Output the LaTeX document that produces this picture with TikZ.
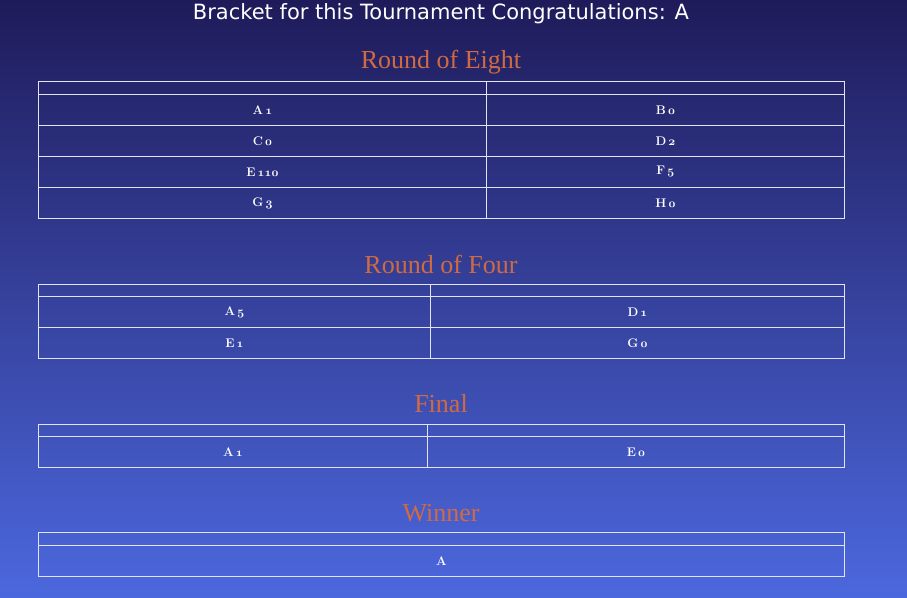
\documentclass[tikz,border=0pt]{standalone}
\usepackage{fontspec}
\newfontfamily\titlefont{DejaVu Sans}
\newfontfamily\roundfont{Liberation Serif}
\usetikzlibrary{positioning}

\definecolor{bgtop}{RGB}{31,27,90}
\definecolor{bgbottom}{RGB}{76,104,222}
\definecolor{roundorange}{RGB}{208,106,66}
\definecolor{gridline}{RGB}{225,228,245}

% team and score, score in old-style figures
\newcommand{\entry}[2]{#1\,{\usefont{OML}{cmm}{b}{it}#2}}

\begin{document}
\begin{tikzpicture}[x=1pt,y=-1pt,
    title node/.style={text=white,font=\titlefont\fontsize{21}{23}\selectfont},
    round node/.style={text=roundorange,font=\roundfont\fontsize{26}{28}\selectfont},
    cell/.style={draw=gridline,line width=0.8pt,rectangle,anchor=north west,
        inner sep=0pt,text=white,font=\bfseries\fontsize{12.5}{13}\selectfont},
    head cell/.style={cell,minimum height=13pt},
    team cell/.style={cell,minimum height=31pt}]

% background
\shade[top color=bgtop,bottom color=bgbottom] (0,0) rectangle (907,597);
\useasboundingbox (0,0) rectangle (907,597);

\node[title node] (title) at (441,14) {Bracket for this Tournament Congratulations: A};

% round of eight
\node[round node] (r8) at (441,62) {Round of Eight};
\node[head cell,minimum width=448pt] (r8hl) at (38,81) {};
\node[head cell,minimum width=358pt] (r8hr) at (486,81) {};
\node[team cell,minimum width=448pt] (r8a) at (38,94) {\entry{A}{1}};
\node[team cell,minimum width=358pt] (r8b) at (486,94) {\entry{B}{0}};
\node[team cell,minimum width=448pt] (r8c) at (38,125) {\entry{C}{0}};
\node[team cell,minimum width=358pt] (r8d) at (486,125) {\entry{D}{2}};
\node[team cell,minimum width=448pt] (r8e) at (38,156) {\entry{E}{110}};
\node[team cell,minimum width=358pt] (r8f) at (486,156) {\entry{F}{5}};
\node[team cell,minimum width=448pt] (r8g) at (38,187) {\entry{G}{3}};
\node[team cell,minimum width=358pt] (r8h) at (486,187) {\entry{H}{0}};

% round of four
\node[round node] (r4) at (441,264) {Round of Four};
\node[head cell,minimum width=392pt,minimum height=12pt] (r4hl) at (38,284) {};
\node[head cell,minimum width=414pt,minimum height=12pt] (r4hr) at (430,284) {};
\node[team cell,minimum width=392pt] (r4a) at (38,296) {\entry{A}{5}};
\node[team cell,minimum width=414pt] (r4d) at (430,296) {\entry{D}{1}};
\node[team cell,minimum width=392pt] (r4e) at (38,327) {\entry{E}{1}};
\node[team cell,minimum width=414pt] (r4g) at (430,327) {\entry{G}{0}};

% final
\node[round node] (fin) at (441,404) {Final};
\node[head cell,minimum width=389pt,minimum height=12pt] (finhl) at (38,424) {};
\node[head cell,minimum width=417pt,minimum height=12pt] (finhr) at (427,424) {};
\node[team cell,minimum width=389pt] (fina) at (38,436) {\entry{A}{1}};
\node[team cell,minimum width=417pt] (fine) at (427,436) {\entry{E}{0}};

% winner
\node[round node] (win) at (441,513) {Winner};
\node[head cell,minimum width=806pt] (winh) at (38,532) {};
\node[team cell,minimum width=806pt] (wina) at (38,545) {A};

\end{tikzpicture}
\end{document}
